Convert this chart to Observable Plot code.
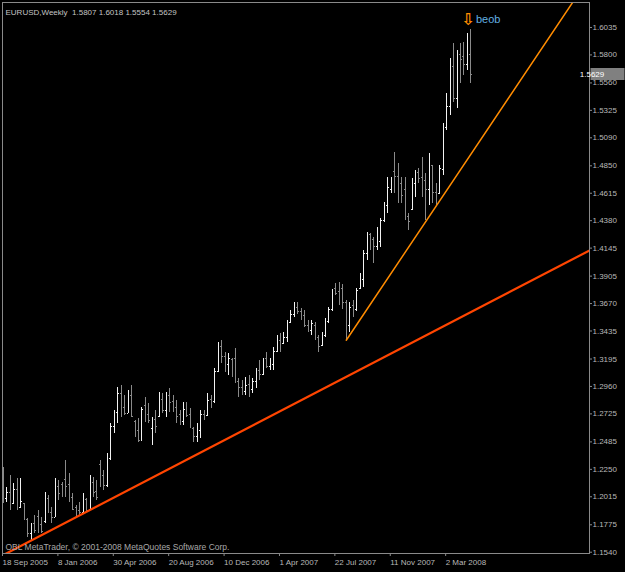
<!DOCTYPE html>
<html><head><meta charset="utf-8">
<script src="https://cdn.jsdelivr.net/npm/d3@7"></script>
<script src="https://cdn.jsdelivr.net/npm/@observablehq/plot@0.6"></script>
<style>
html,body{margin:0;padding:0;background:#000;overflow:hidden;}
#chart svg{display:block;}
</style></head><body><div id="chart"></div>
<script>
const symbol = "EURUSD";
const period = "Weekly";
const firstWeek = "2005-09-18";
const lastWeek = "2008-04-20";

const open = [
1.2230,1.2000,1.2050,1.1960,1.2080,1.1925,1.1955,1.1820,1.1700,1.1790,
1.1850,1.1780,1.1800,1.2000,1.1880,1.1840,1.2100,1.2120,1.2160,1.2120,
1.2010,1.1920,1.1900,1.1880,1.1990,1.1910,1.2140,1.2060,1.2290,1.2200,
1.2110,1.2340,1.2620,1.2740,1.2900,1.2780,1.2730,1.2880,1.2660,1.2580,
1.2500,1.2800,1.2720,1.2600,1.2680,1.2700,1.2850,1.2750,1.2880,1.2830,
1.2780,1.2720,1.2660,1.2760,1.2720,1.2600,1.2530,1.2580,1.2720,1.2710,
1.2850,1.2830,1.3090,1.3300,1.3220,1.3150,1.3190,1.3200,1.3000,1.2950,
1.2920,1.2980,1.2930,1.3000,1.3100,1.3060,1.3200,1.3130,1.3150,1.3260,
1.3350,1.3330,1.3380,1.3510,1.3580,1.3640,1.3600,1.3570,1.3480,1.3440,
1.3480,1.3380,1.3310,1.3400,1.3520,1.3620,1.3800,1.3770,1.3800,1.3680,
1.3480,1.3650,1.3620,1.3800,1.3880,1.4100,1.4260,1.4220,1.4160,1.4200,
1.4380,1.4510,1.4650,1.4800,1.4760,1.4700,1.4650,1.4420,1.4480,1.4700,
1.4790,1.4750,1.4720,1.4650,1.4850,1.4620,1.4610,1.4820,1.5180,1.5360,
1.5700,1.5430,1.5800,1.5790,1.5720,1.5807];

const high = [
1.2266,1.2095,1.2197,1.2129,1.2172,1.2172,1.1960,1.1829,1.1786,1.1854,
1.1897,1.1837,1.2052,1.2026,1.1923,1.2172,1.2154,1.2137,1.2326,1.2215,
1.2043,1.1940,1.1966,1.2043,1.2000,1.2197,1.2180,1.2154,1.2326,1.2240,
1.2386,1.2643,1.2754,1.2951,1.2969,1.2883,1.2926,1.2969,1.2669,1.2686,
1.2780,1.2866,1.2814,1.2694,1.2754,1.2909,1.2900,1.2909,1.2943,1.2883,
1.2840,1.2754,1.2823,1.2823,1.2771,1.2609,1.2643,1.2754,1.2754,1.2900,
1.2883,1.3114,1.3337,1.3354,1.3251,1.3243,1.3200,1.3286,1.3029,1.3012,
1.3037,1.3054,1.3029,1.3114,1.3183,1.3200,1.3251,1.3200,1.3294,1.3397,
1.3414,1.3423,1.3526,1.3611,1.3680,1.3682,1.3629,1.3611,1.3526,1.3526,
1.3509,1.3397,1.3420,1.3543,1.3640,1.3790,1.3845,1.3852,1.3830,1.3697,
1.3680,1.3697,1.3800,1.3929,1.4126,1.4280,1.4271,1.4237,1.4323,1.4400,
1.4537,1.4751,1.4751,1.4966,1.4871,1.4751,1.4751,1.4443,1.4743,1.4811,
1.4829,1.4923,1.4786,1.4957,1.4854,1.4697,1.4850,1.5214,1.5471,1.5771,
1.5900,1.5840,1.5900,1.5906,1.5983,1.6018];

const low = [
1.1957,1.1966,1.1897,1.1957,1.1897,1.1914,1.1812,1.1666,1.1640,1.1700,
1.1700,1.1700,1.1786,1.1872,1.1786,1.1837,1.1983,1.2009,1.2009,1.1966,
1.1897,1.1840,1.1858,1.1872,1.1888,1.1905,1.2009,1.1983,1.2095,1.2069,
1.2095,1.2326,1.2557,1.2643,1.2694,1.2711,1.2729,1.2694,1.2523,1.2480,
1.2497,1.2651,1.2643,1.2454,1.2557,1.2694,1.2729,1.2694,1.2737,1.2737,
1.2643,1.2626,1.2626,1.2694,1.2600,1.2480,1.2480,1.2514,1.2669,1.2711,
1.2771,1.2814,1.3080,1.3157,1.3080,1.3054,1.3037,1.2986,1.2866,1.2883,
1.2883,1.2866,1.2900,1.2943,1.3012,1.3050,1.3114,1.3097,1.3097,1.3251,
1.3251,1.3329,1.3337,1.3500,1.3551,1.3577,1.3526,1.3466,1.3423,1.3397,
1.3354,1.3254,1.3300,1.3380,1.3500,1.3600,1.3740,1.3650,1.3620,1.3356,
1.3420,1.3551,1.3600,1.3790,1.3808,1.4040,1.4126,1.4014,1.4126,1.4151,
1.4366,1.4443,1.4614,1.4614,1.4528,1.4528,1.4383,1.4297,1.4469,1.4580,
1.4700,1.4580,1.4383,1.4511,1.4528,1.4505,1.4600,1.4769,1.5154,1.5283,
1.5394,1.5343,1.5557,1.5626,1.5669,1.5554];

const close = [
1.2010,1.2050,1.1960,1.2080,1.1930,1.1975,1.1830,1.1700,1.1760,1.1730,
1.1760,1.1720,1.2000,1.1900,1.1840,1.2100,1.2040,1.2060,1.2100,1.2010,
1.1910,1.1880,1.1880,1.2000,1.1900,1.2150,1.2050,1.2010,1.2120,1.2110,
1.2340,1.2620,1.2740,1.2900,1.2740,1.2730,1.2880,1.2700,1.2560,1.2500,
1.2760,1.2690,1.2670,1.2650,1.2620,1.2850,1.2750,1.2880,1.2820,1.2780,
1.2700,1.2660,1.2760,1.2710,1.2620,1.2530,1.2600,1.2720,1.2700,1.2840,
1.2820,1.3090,1.3250,1.3220,1.3150,1.3200,1.3080,1.3000,1.2950,1.2920,
1.2970,1.2940,1.3000,1.3080,1.3060,1.3150,1.3130,1.3170,1.3260,1.3350,
1.3330,1.3380,1.3510,1.3580,1.3640,1.3600,1.3570,1.3480,1.3450,1.3500,
1.3380,1.3300,1.3400,1.3520,1.3620,1.3780,1.3760,1.3680,1.3680,1.3480,
1.3640,1.3620,1.3780,1.3900,1.4100,1.4250,1.4200,1.4160,1.4300,1.4380,
1.4510,1.4660,1.4700,1.4760,1.4630,1.4600,1.4420,1.4370,1.4700,1.4760,
1.4740,1.4660,1.4650,1.4850,1.4620,1.4580,1.4830,1.5180,1.5360,1.5650,
1.5430,1.5790,1.5760,1.5720,1.5810,1.5629];

const priceTicks = [1.6035,1.5800,1.5560,1.5325,1.5090,1.4850,1.4615,1.4380,1.4145,1.3905,
1.3670,1.3435,1.3195,1.2960,1.2725,1.2485,1.2250,1.2015,1.1775,1.1540];
const dateTicks = ["2005-09-18","2006-01-08","2006-04-30","2006-08-20","2006-12-10","2007-04-01","2007-07-22","2007-11-11","2008-03-02"];

const redTrendDates = ["2005-09-04","2009-01-04"];
const redTrendPrices = [1.1486, 1.4167];
const orangeTrendDates = ["2007-08-12","2008-11-23"];
const orangeTrendPrices = [1.3356, 1.6321];

const signalDate = "2008-04-20";
const signalPrice = 1.6100;
const signalLabel = "beob";
const copyright = "OBL MetaTrader, \u00a9 2001-2008 MetaQuotes Software Corp.";

const weeks = d3.utcWeek.range(new Date(firstWeek), d3.utcDay.offset(new Date(lastWeek), 1));
const bars = weeks.map((date, i) => ({date, open: open[i], high: high[i], low: low[i], close: close[i]}));
const last = bars[bars.length - 1];
const title = `${symbol},${period}\u00a0\u00a0${[last.open, last.high, last.low, last.close].map(v => v.toFixed(4)).join(" ")}`;

const redTrend = redTrendDates.map((d, i) => ({date: new Date(d), price: redTrendPrices[i]}));
const orangeTrend = orangeTrendDates.map((d, i) => ({date: new Date(d), price: orangeTrendPrices[i]}));
const signal = [{date: new Date(signalDate), price: signalPrice}];

const UP = "#f2f2f2", DOWN = "#8a8a8a", AXIS = "#8a8a8a", TXT = "#b8b8b8";
const barColor = d => d.close >= d.open ? UP : DOWN;
const FONT = "'Liberation Sans', Arial, sans-serif";

const chart = Plot.plot({
  width: 625, height: 572,
  marginLeft: 2, marginRight: 36, marginTop: 2, marginBottom: 19,
  style: {background: "#000", color: TXT, fontFamily: FONT, fontSize: "8px"},
  x: {type: "utc", domain: [new Date("2005-09-15T23:30Z"), new Date("2008-12-15T19:00Z")]},
  y: {domain: [1.1529, 1.6249]},
  color: {type: "identity"},
  marks: [
    Plot.ruleX(bars, {x: "date", y1: "low", y2: "high", stroke: barColor, strokeWidth: 1, shapeRendering: "crispEdges"}),
    Plot.link(bars, {x1: d => d3.utcDay.offset(d.date, -2.5), x2: "date", y1: "open", y2: "open", stroke: barColor, strokeWidth: 1, shapeRendering: "crispEdges"}),
    Plot.link(bars, {x1: "date", x2: d => d3.utcDay.offset(d.date, 2.5), y1: "close", y2: "close", stroke: barColor, strokeWidth: 1, shapeRendering: "crispEdges"}),
    Plot.line(redTrend, {x: "date", y: "price", stroke: "#ff4500", strokeWidth: 2.2, clip: true}),
    Plot.line(orangeTrend, {x: "date", y: "price", stroke: "#ff8c00", strokeWidth: 1.5, clip: true}),
    Plot.text(signal, {x: "date", y: "price", text: () => "\u21e9", fill: "#ff8c00", fontSize: 16, fontWeight: "bold", fontFamily: "DejaVu Sans", dx: -3}),
    Plot.text(signal, {x: "date", y: "price", text: () => signalLabel, fill: "#62b0e0", fontSize: 11, textAnchor: "start", dx: 5}),
    Plot.text([title], {frameAnchor: "top-left", text: d => d, dx: 3, dy: 7, fill: "#c4c4c4", fontSize: 8, textAnchor: "start"}),
    Plot.text([copyright], {frameAnchor: "bottom-left", text: d => d, dx: 3, dy: -4, fill: "#a8a8a8", fontSize: 8.5, textAnchor: "start"}),
    Plot.frame({stroke: AXIS}),
    Plot.axisY({anchor: "right", ticks: priceTicks, tickFormat: d => d.toFixed(4), tickSize: 2, tickPadding: 1, fontSize: 8, stroke: AXIS, fill: TXT}),
    Plot.axisX({anchor: "bottom", ticks: dateTicks.map(d => new Date(d)), tickFormat: d3.utcFormat("%-d %b %Y"), tickSize: 3, tickPadding: 3, textAnchor: "start", dx: -1, fontSize: 8, stroke: AXIS, fill: TXT})
  ]
});

const yScale = chart.scale("y");
const py = yScale.apply(last.close);
const svg = d3.select(chart);
svg.append("rect").attr("x", 590.5).attr("y", Math.round(py) - 6).attr("width", 34).attr("height", 12).attr("fill", "#808080");
svg.append("text").attr("x", 592).attr("y", py).attr("dy", "0.35em").attr("fill", "#ffffff")
  .attr("font-size", 8).attr("font-family", FONT).text(last.close.toFixed(4));

document.getElementById("chart").appendChild(chart);
</script>
</body></html>
